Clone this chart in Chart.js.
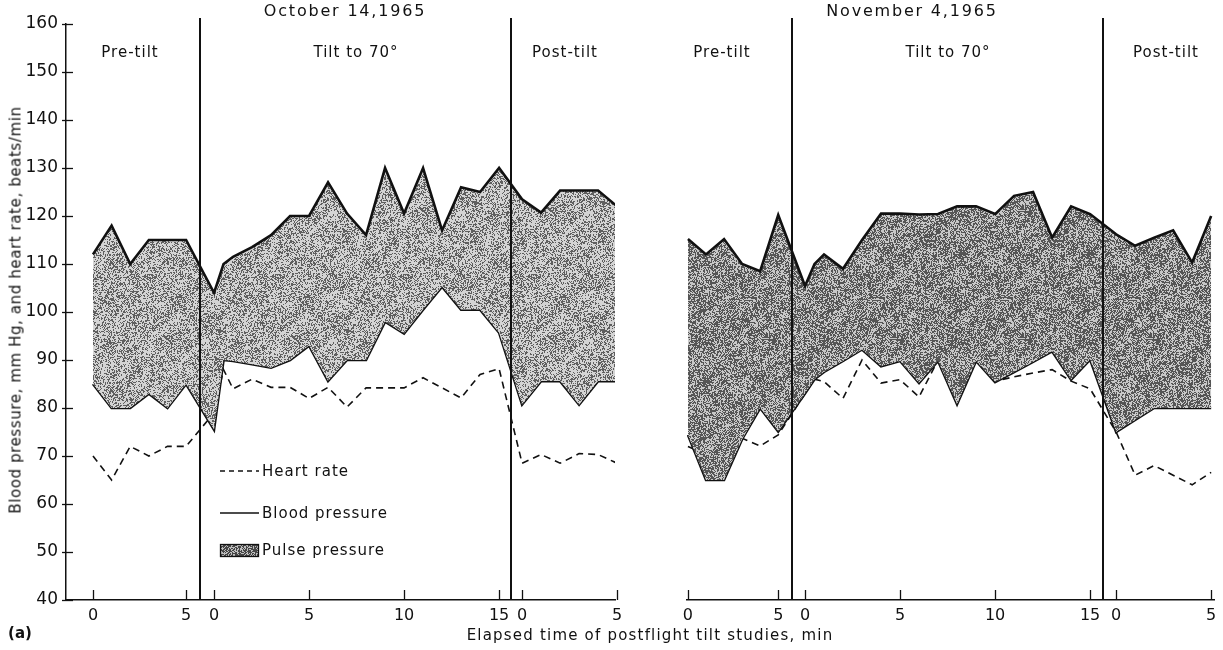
<!DOCTYPE html>
<html>
<head>
<meta charset="utf-8">
<script src="https://cdn.jsdelivr.net/npm/chart.js@4.4.0/dist/chart.umd.min.js"></script>
<style>
  html, body { margin: 0; padding: 0; background: #fff; }
  #wrap { position: relative; width: 1223px; height: 650px; overflow: hidden;
          font-family: "DejaVu Sans", sans-serif; color: #111; }
  #leftBox  { position: absolute; left: 0;     top: 0; width: 640px; height: 650px; }
  #rightBox { position: absolute; left: 640px; top: 0; width: 583px; height: 650px; }
  .txt { position: absolute; white-space: nowrap; transform: translate(-50%, -50%);
         font-size: 15px; letter-spacing: 1px; line-height: 1; }
</style>
</head>
<body>
<div id="wrap">
  <div id="leftBox"><canvas id="octChart"></canvas></div>
  <div id="rightBox"><canvas id="novChart"></canvas></div>
</div>
<script>
// ---------- values read per phase, in minutes from the start of each phase ----------
const preMinutes  = [0, 1, 2, 3, 4, 5];
const tiltMinutes = [0, 0.5, 1, 2, 3, 4, 5, 6, 7, 8, 9, 10, 11, 12, 13, 14, 15];
const postMinutes = [0, 1, 2, 3, 4, 5];

// October 14, 1965
const octPreSystolic  = [112, 118, 110, 115, 115, 115];
const octPreDiastolic = [85, 80, 80, 83, 80, 85];
const octPreHeart     = [70, 65, 72, 70, 72, 72];
const octTiltSystolic  = [104, 110, 111.5, 113.5, 116, 120, 120, 127, 120.5, 116, 130, 120.5, 130, 117, 126, 125, 130];
const octTiltDiastolic = [75.5, 90, 89.8, 89.1, 88.4, 90, 93, 85.6, 90, 90, 98, 95.5, 100.5, 105.3, 100.5, 100.5, 95.7];
const octTiltHeart     = [79, 88, 84, 86, 84.3, 84.3, 82, 84.3, 80.2, 84.2, 84.2, 84.2, 86.3, 84.2, 82.1, 87, 88.2];
const octPostSystolic  = [123.5, 120.7, 125.3, 125.3, 125.3, 122];
const octPostDiastolic = [80.7, 85.6, 85.6, 80.7, 85.6, 85.6];
const octPostHeart     = [68.5, 70.3, 68.5, 70.5, 70.3, 68.5];

// November 4, 1965
const novPreSystolic  = [115.2, 112, 115.2, 110, 108.5, 120.2];
const novPreDiastolic = [74.4, 65, 65, 73.5, 80, 75.1];
const novPreHeart     = [72, 70.3, 73.4, 73.7, 72.1, 74.4];
const novTiltSystolic  = [105.4, 110, 112, 109, 115, 120.5, 120.5, 120.3, 120.4, 122, 122, 120.4, 124.2, 125, 115.5, 122, 120.4];
const novTiltDiastolic = [83, 86, 87.5, 89.8, 92.2, 88.7, 89.8, 85.2, 89.8, 80.8, 89.8, 85.4, 87.5, 89.6, 91.8, 85.9, 90.1];
const novTiltHeart     = [83, 86, 85.5, 82, 90, 85.2, 85.9, 82.3, 90, 85.6, 90, 85.6, 86.5, 87.3, 88, 85.6, 84];
const novPostSystolic  = [116.2, 113.8, 115.5, 117, 110.3, 120];
const novPostDiastolic = [75, 77.5, 80, 80, 80, 80];
const novPostHeart     = [75, 66, 68, 66, 64, 66.6];

// tick labels
const preTickMinutes  = [0, 5];
const tiltTickMinutes = [0, 5, 10, 15];
const postTickMinutes = [0, 5];
const yMin = 40, yMax = 160, yStep = 10;

// text
const panelTitles = ['October 14,1965', 'November 4,1965'];
const phaseNames  = ['Pre-tilt', 'Tilt to 70°', 'Post-tilt'];
const yTitle = 'Blood pressure, mm Hg, and heart rate, beats/min';
const xTitle = 'Elapsed time of postflight tilt studies, min';
const legendNames = ['Heart rate', 'Blood pressure', 'Pulse pressure'];

// ---------- panel geometry: where each phase sits along the shared time axis ----------
const octLayout = { min: -1.42, max: 27.47,
  pre: { offset: 0, rate: 0.98 }, tilt: { offset: 6.37, rate: 1 }, post: { offset: 22.58, rate: 1 } };
const novLayout = { min: -0.05, max: 27.68,
  pre: { offset: 0, rate: 0.95 }, tilt: { offset: 6.16, rate: 1 }, post: { offset: 22.53, rate: 1 } };

const FONT = '"DejaVu Sans", sans-serif';

function pos(layout, phase, t) { return layout[phase].offset + t * layout[phase].rate; }

function series(layout, pre, tilt, post) {
  const pts = [];
  preMinutes.forEach((t, i) => pts.push({ x: pos(layout, 'pre', t), y: pre[i] }));
  tiltMinutes.forEach((t, i) => pts.push({ x: pos(layout, 'tilt', t), y: tilt[i] }));
  postMinutes.forEach((t, i) => pts.push({ x: pos(layout, 'post', t), y: post[i] }));
  return pts;
}

function tickList(layout) {
  const list = [];
  preTickMinutes.forEach(t => list.push({ value: pos(layout, 'pre', t), label: String(t) }));
  tiltTickMinutes.forEach(t => list.push({ value: pos(layout, 'tilt', t), label: String(t) }));
  postTickMinutes.forEach(t => list.push({ value: pos(layout, 'post', t), label: String(t) }));
  return list;
}

function dividers(layout) {
  const preEnd = pos(layout, 'pre', preMinutes[preMinutes.length - 1]);
  const tiltStart = pos(layout, 'tilt', tiltMinutes[0]);
  const tiltEnd = pos(layout, 'tilt', tiltMinutes[tiltMinutes.length - 1]);
  const postStart = pos(layout, 'post', postMinutes[0]);
  return [(preEnd + tiltStart) / 2, (tiltEnd + postStart) / 2];
}

// stippled grey used for the pulse-pressure band (deterministic hash grain)
function hash(x, y, s) {
  const v = Math.sin(x * 12.9898 + y * 78.233 + s * 37.719) * 43758.5453;
  return v - Math.floor(v);
}
function makeGrain(density, seed, dark, light) {
  const N = 128;
  const c = document.createElement('canvas');
  c.width = N; c.height = N;
  const g = c.getContext('2d');
  const img = g.createImageData(N, N);
  const k = Math.PI * 2 / N;
  for (let y = 0; y < N; y++) {
    for (let x = 0; x < N; x++) {
      const blot = 0.08 * Math.sin(x * k * 2 + seed) * Math.cos(y * k * 3 + seed * 2)
                 + 0.05 * Math.sin((x + y) * k * 5 + seed);
      const isDark = hash(x, y, seed) < density + blot;
      const v = isDark ? dark : light;
      const i = (y * N + x) * 4;
      img.data[i] = v; img.data[i + 1] = v; img.data[i + 2] = v; img.data[i + 3] = 255;
    }
  }
  g.putImageData(img, 0, 0);
  return g.createPattern(c, 'repeat');
}

// phase boundary lines
const dividerPlugin = {
  id: 'phaseDividers',
  afterDatasetsDraw(chart, args, opts) {
    const { ctx, chartArea, scales } = chart;
    ctx.save();
    ctx.strokeStyle = '#111';
    ctx.lineWidth = 2;
    opts.positions.forEach(v => {
      const x = Math.round(scales.x.getPixelForValue(v));
      ctx.beginPath();
      ctx.moveTo(x, chartArea.top - 6);
      ctx.lineTo(x, chartArea.bottom);
      ctx.stroke();
    });
    ctx.restore();
  }
};

// tick marks pointing into the plot
const innerTicksPlugin = {
  id: 'innerTicks',
  afterDraw(chart, args, opts) {
    const { ctx, chartArea, scales } = chart;
    ctx.save();
    ctx.strokeStyle = '#111';
    ctx.lineWidth = 1.3;
    scales.x.ticks.forEach(tk => {
      const x = Math.round(scales.x.getPixelForValue(tk.value)) + 0.5;
      ctx.beginPath();
      ctx.moveTo(x, chartArea.bottom);
      ctx.lineTo(x, chartArea.bottom - 10);
      ctx.stroke();
    });
    if (opts.yTicks) {
      scales.y.ticks.forEach(tk => {
        const y = Math.round(scales.y.getPixelForValue(tk.value)) + 0.5;
        ctx.beginPath();
        ctx.moveTo(chartArea.left - 4, y);
        ctx.lineTo(chartArea.left + 7, y);
        ctx.stroke();
      });
    }
    ctx.restore();
  }
};

// key drawn inside the October panel
const keyPlugin = {
  id: 'bandKey',
  afterDraw(chart, args, opts) {
    if (!opts.show) return;
    const ctx = chart.ctx;
    const x0 = 220, x1 = 259, rows = [471, 513, 550];
    ctx.save();
    ctx.strokeStyle = '#111';
    ctx.lineWidth = 1.3;
    ctx.setLineDash([5, 4]);
    ctx.beginPath(); ctx.moveTo(x0, rows[0]); ctx.lineTo(x1, rows[0]); ctx.stroke();
    ctx.setLineDash([]);
    ctx.beginPath(); ctx.moveTo(x0, rows[1]); ctx.lineTo(x1, rows[1]); ctx.stroke();
    ctx.fillStyle = opts.swatch;
    ctx.fillRect(x0, rows[2] - 6, x1 - x0, 13);
    ctx.strokeRect(x0 + 0.5, rows[2] - 5.5, x1 - x0 - 1, 12);
    ctx.fillStyle = '#111';
    ctx.font = '15px ' + FONT;
    ctx.letterSpacing = '1px';
    ctx.textBaseline = 'middle';
    legendNames.forEach((name, i) => ctx.fillText(name, x1 + 3, rows[i] + 1));
    ctx.restore();
  }
};

function makeChart(canvasId, layout, sys, dia, hr, grain, withYAxis) {
  const ticks = tickList(layout);
  const yScale = {
    display: withYAxis,
    min: yMin, max: yMax,
    grid: { display: false, drawTicks: false },
    border: { display: true, color: '#111', width: 1.5 },
    ticks: { stepSize: yStep, padding: 8, color: '#111', font: { family: FONT, size: 17 } }
  };
  if (withYAxis) yScale.afterFit = s => { s.width = 66; };
  return new Chart(document.getElementById(canvasId), {
    type: 'line',
    data: {
      datasets: [
        { label: 'Systolic', data: sys, borderColor: '#111', borderWidth: 2.6,
          backgroundColor: grain, fill: '+1', pointRadius: 0, tension: 0, borderJoinStyle: 'miter' },
        { label: 'Diastolic', data: dia, borderColor: '#111', borderWidth: 2.6,
          fill: false, pointRadius: 0, tension: 0, borderJoinStyle: 'miter' },
        { label: 'Heart rate', data: hr, borderColor: '#111', borderWidth: 1.6,
          borderDash: [7, 5], fill: false, pointRadius: 0, tension: 0 }
      ]
    },
    options: {
      responsive: true,
      maintainAspectRatio: false,
      animation: false,
      events: [],
      layout: { padding: withYAxis ? { left: 0, right: 25, top: 24, bottom: 0 }
                                   : { left: 47, right: 9, top: 24, bottom: 0 } },
      plugins: {
        legend: { display: false },
        tooltip: { enabled: false },
        phaseDividers: { positions: dividers(layout) },
        innerTicks: { yTicks: withYAxis },
        bandKey: { show: withYAxis, swatch: makeGrain(0.6, 7, 70, 190) }
      },
      scales: {
        x: {
          type: 'linear', min: layout.min, max: layout.max,
          grid: { display: false, drawTicks: false },
          border: { display: true, color: '#111', width: 1.5 },
          afterBuildTicks: s => { s.ticks = ticks.map(t => ({ value: t.value })); },
          afterFit: s => { s.height = 50; },
          ticks: { autoSkip: false, maxRotation: 0, padding: 6, color: '#111',
                   font: { family: FONT, size: 16 },
                   callback: (v, i) => ticks[i].label }
        },
        y: yScale
      }
    },
    plugins: [dividerPlugin, innerTicksPlugin, keyPlugin]
  });
}

makeChart('octChart', octLayout,
  series(octLayout, octPreSystolic, octTiltSystolic, octPostSystolic),
  series(octLayout, octPreDiastolic, octTiltDiastolic, octPostDiastolic),
  series(octLayout, octPreHeart, octTiltHeart, octPostHeart),
  makeGrain(0.38, 3, 95, 212), true);

makeChart('novChart', novLayout,
  series(novLayout, novPreSystolic, novTiltSystolic, novPostSystolic),
  series(novLayout, novPreDiastolic, novTiltDiastolic, novPostDiastolic),
  series(novLayout, novPreHeart, novTiltHeart, novPostHeart),
  makeGrain(0.55, 11, 85, 200), false);

// free-standing labels
const wrap = document.getElementById('wrap');
function addText(text, x, y, extra) {
  const d = document.createElement('div');
  d.className = 'txt';
  d.textContent = text;
  d.style.left = x + 'px';
  d.style.top = y + 'px';
  if (extra) Object.assign(d.style, extra);
  wrap.appendChild(d);
}
addText(panelTitles[0], 345, 11, { fontSize: '16px', letterSpacing: '1.8px' });
addText(panelTitles[1], 912, 11, { fontSize: '16px', letterSpacing: '1.8px' });
[[130, 356, 565], [722, 948, 1166]].forEach(xs =>
  xs.forEach((x, i) => addText(phaseNames[i], x, 52)));
addText(yTitle, 16, 310, { transform: 'translate(-50%, -50%) rotate(-90deg)', letterSpacing: '0.6px' });
addText(xTitle, 650, 635, { letterSpacing: '1.2px' });
addText('(a)', 20, 633, { fontWeight: 'bold', letterSpacing: '0px', fontSize: '15px' });
</script>
</body>
</html>
